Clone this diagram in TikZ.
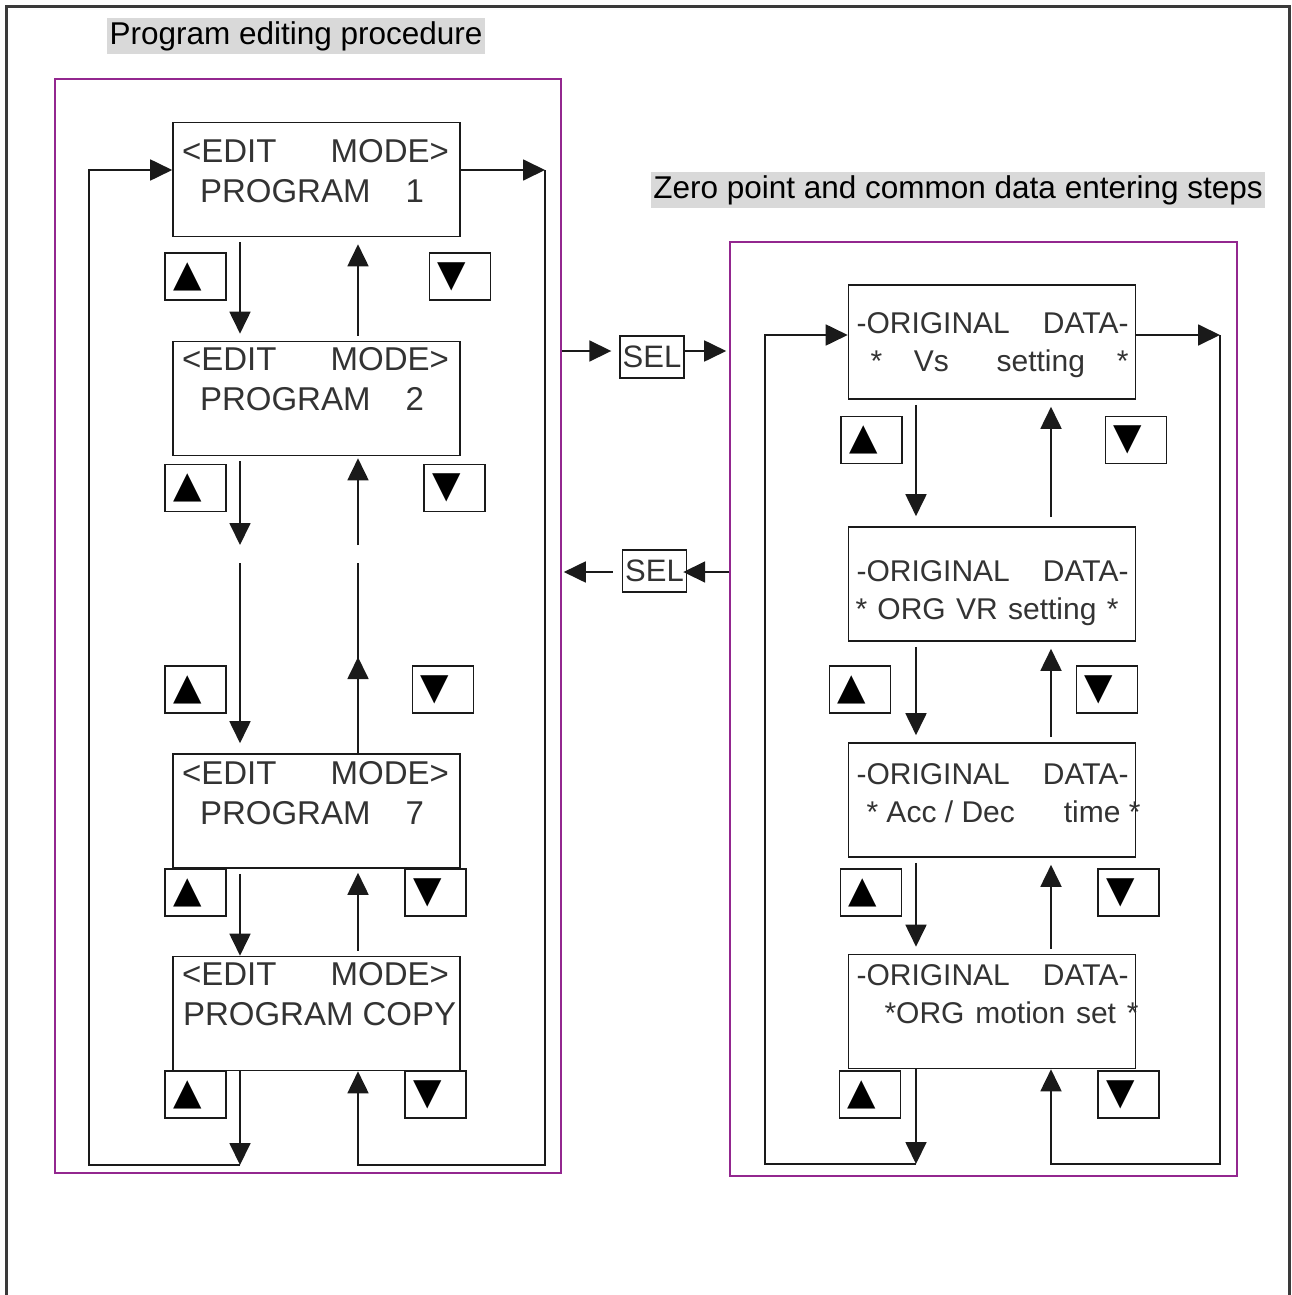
\documentclass[tikz,border=0pt]{standalone}
\usepackage{fontspec}
\setmainfont{Liberation Sans}
\newfontfamily\keyfont{DejaVu Sans}
\usepackage{tikz}
\usepackage{xcolor}
\usetikzlibrary{arrows.meta,positioning}
\definecolor{ink}      {HTML}{1A1A1A}
\definecolor{lcdink}   {HTML}{333333}
\definecolor{groupline}{HTML}{93278F}
\definecolor{shade}    {HTML}{D9D9D9}
\definecolor{rim}      {HTML}{3A3A3A}

% two text lines of one display, top aligned
\newcommand{\lcdlines}[3]{\parbox[c][114pt][t]{287pt}{\vspace*{#1}#2\\#3}}
\newcommand{\editmode}{\hspace*{9pt}\makebox[267pt][s]{<EDIT\hfill MODE>}}
\newcommand{\progno}[1]{\hspace*{27pt}\makebox[224pt][s]{PROGRAM\hfill #1}}
\newcommand{\origdata}{\hspace*{8pt}\makebox[272pt][s]{-ORIGINAL\hfill DATA-}}

\begin{document}
\begin{tikzpicture}[x=1pt,y=-1pt,
    lcd/.style={draw=ink,line width=1.6pt,inner sep=0pt,text=lcdink,
                font=\fontsize{33}{40}\selectfont},
    lcdr/.style={lcd,font=\fontsize{30}{38}\selectfont},
    key/.style={draw=ink,line width=1.4pt,minimum width=61pt,minimum height=47pt,
                inner sep=0pt,font=\keyfont\fontsize{37}{37}\selectfont},
    sel/.style={draw=ink,line width=1.4pt,minimum width=64pt,minimum height=42pt,
                inner sep=0pt,text=lcdink,font=\fontsize{31}{31}\selectfont},
    group/.style={draw=groupline,line width=1.6pt,inner sep=0pt},
    heading/.style={fill=shade,inner sep=2.5pt,text height=24pt,text depth=7pt,
                    font=\fontsize{31.5}{31.5}\selectfont},
    wire/.style={draw=ink,line width=1.8pt},
    arr/.style={wire,-{Triangle[length=22pt,width=21pt]}},
    link/.style={arr,shorten <=5pt,shorten >=7pt}]
  \useasboundingbox (0,0) rectangle (1291,1295);
  \draw[rim,line width=3pt] (6,1295) -- (6,7) -- (1289,7) -- (1289,1295);

  % headings and frames
  \node[heading] (head1) at (296,36) {Program editing procedure};
  \node[heading] (head2) at (958,190) {Zero point and common data entering steps};
  \node[group,minimum width=506pt,minimum height=1094pt] (left) at (308,626) {};
  \node[group,minimum width=507pt,minimum height=934pt] (right) at (983.5,709) {};

  % program editing displays
  \node[lcd] (p1) at (316.5,179.5) {\lcdlines{17pt}{\editmode}{\progno{1}}};
  \node[lcd] (p2) at (316.5,398.5) {\lcdlines{6pt}{\editmode}{\progno{2}}};
  \node[lcd] (p7) at (316.5,811) {\lcdlines{7pt}{\editmode}{\progno{7}}};
  \node[lcd] (copy) at (316.5,1013.5) {\lcdlines{6pt}{\editmode}{\hspace*{10pt}PROGRAM COPY}};

  % zero point displays
  \node[lcdr] (r1) at (992,342) {\lcdlines{28pt}{\origdata}
    {\hspace*{22pt}\makebox[258pt][s]{*\hspace{\stretch{2}}Vs\hspace{\stretch{3}}setting\hspace{\stretch{2}}*}}};
  \node[lcdr] (r2) at (992,584) {\lcdlines{34pt}{\origdata}
    {\hspace*{7pt}\makebox[263pt][s]{* ORG VR setting *}}};
  \node[lcdr] (r3) at (992,800) {\lcdlines{21pt}{\origdata}
    {\hspace*{18pt}\makebox[274pt][s]{* Acc / Dec\hfill time *}}};
  \node[lcdr] (r4) at (992,1011.5) {\lcdlines{10pt}{\origdata}
    {\hspace*{36pt}\makebox[254pt][s]{*ORG motion set *}}};

  % keys
  \node[key] (ku1) at (195.5,276.5) {▲\hspace*{16pt}};
  \node[key] (kd1) at (460,276.5) {▼\hspace*{16pt}};
  \node[key] (ku2) at (195.5,488) {▲\hspace*{16pt}};
  \node[key] (kd2) at (454.5,488) {▼\hspace*{16pt}};
  \node[key] (ku3) at (195.5,689.5) {▲\hspace*{16pt}};
  \node[key] (kd3) at (443,689.5) {▼\hspace*{16pt}};
  \node[key] (ku4) at (195.5,892.5) {▲\hspace*{16pt}};
  \node[key] (kd4) at (435.5,892.5) {▼\hspace*{16pt}};
  \node[key] (ku5) at (195.5,1094.5) {▲\hspace*{16pt}};
  \node[key] (kd5) at (435.5,1094.5) {▼\hspace*{16pt}};
  \node[key] (rku1) at (871.5,440) {▲\hspace*{16pt}};
  \node[key] (rkd1) at (1136,440) {▼\hspace*{16pt}};
  \node[key] (rku2) at (860,689.5) {▲\hspace*{16pt}};
  \node[key] (rkd2) at (1107,689.5) {▼\hspace*{16pt}};
  \node[key] (rku3) at (871,892.5) {▲\hspace*{16pt}};
  \node[key] (rkd3) at (1128.5,892.5) {▼\hspace*{16pt}};
  \node[key] (rku4) at (870,1094.5) {▲\hspace*{16pt}};
  \node[key] (rkd4) at (1128.5,1094.5) {▼\hspace*{16pt}};

  % SEL keys
  \node[sel] (sel1) at (652,357) {SEL};
  \node[sel] (sel2) at (654.5,571) {SEL};

  % guide coordinates
  \coordinate (ldn) at (240,0);
  \coordinate (lup) at (358,0);
  \coordinate (rdn) at (916,0);
  \coordinate (rup) at (1051,0);
  \coordinate (gapa) at (0,545);
  \coordinate (gapb) at (0,563);
  \coordinate (lmid) at (358,657);
  \coordinate (lbot) at (0,1165);
  \coordinate (rbot) at (0,1164);
  \coordinate (lret) at (89,170);
  \coordinate (lfar) at (545,170);
  \coordinate (rret) at (765,335);
  \coordinate (rfar) at (1220,335);
  \coordinate (sela) at (0,351);
  \coordinate (selb) at (0,572);

  % program editing flow
  \draw[link] (ldn |- p1.south) -- (ldn |- p2.north);
  \draw[link] (lup |- p2.north) -- (lup |- p1.south);
  \draw[arr,shorten <=5pt] (ldn |- p2.south) -- (ldn |- gapa);
  \draw[arr,shorten >=10pt] (ldn |- gapb) -- (ldn |- p7.north);
  \draw[arr,shorten >=2pt] (lup |- gapa) -- (lup |- p2.south);
  \draw[wire] (lup |- p7.north) -- (lup |- gapb);
  \draw[arr] (lup |- p7.north) -- (lmid);
  \draw[link,shorten >=0pt] (ldn |- p7.south) -- (ldn |- copy.north);
  \draw[link,shorten >=4pt] (lup |- copy.north) -- (lup |- p7.south);
  \draw[arr] (ldn |- copy.south) -- (ldn |- lbot);
  \draw[arr] (ldn |- lbot) -| (lret) -- (lret -| p1.west);
  \draw[arr] (lfar -| p1.east) -- (lfar);
  \draw[arr] (lfar) |- (lup |- lbot) -- (lup |- copy.south);

  % SEL switching
  \draw[arr,shorten >=8pt] (left.east |- sela) -- (sel1.west |- sela);
  \draw[arr,shorten >=3pt] (sel1.east |- sela) -- (right.west |- sela);
  \draw[arr,shorten >=-4pt] (right.west |- selb) -- (sel2.east |- selb);
  \draw[arr,shorten <=9pt,shorten >=2pt] (sel2.west |- selb) -- (left.east |- selb);

  % zero point flow
  \draw[link,shorten >=10pt] (rdn |- r1.south) -- (rdn |- r2.north);
  \draw[link,shorten <=9pt] (rup |- r2.north) -- (rup |- r1.south);
  \draw[link] (rdn |- r2.south) -- (rdn |- r3.north);
  \draw[link] (rup |- r3.north) -- (rup |- r2.south);
  \draw[link] (rdn |- r3.south) -- (rdn |- r4.north);
  \draw[link] (rup |- r4.north) -- (rup |- r3.south);
  \draw[arr] (rdn |- r4.south) -- (rdn |- rbot);
  \draw[arr] (rdn |- rbot) -| (rret) -- (rret -| r1.west);
  \draw[arr] (rfar -| r1.east) -- (rfar);
  \draw[arr] (rfar) |- (rup |- rbot) -- (rup |- r4.south);
\end{tikzpicture}
\end{document}
